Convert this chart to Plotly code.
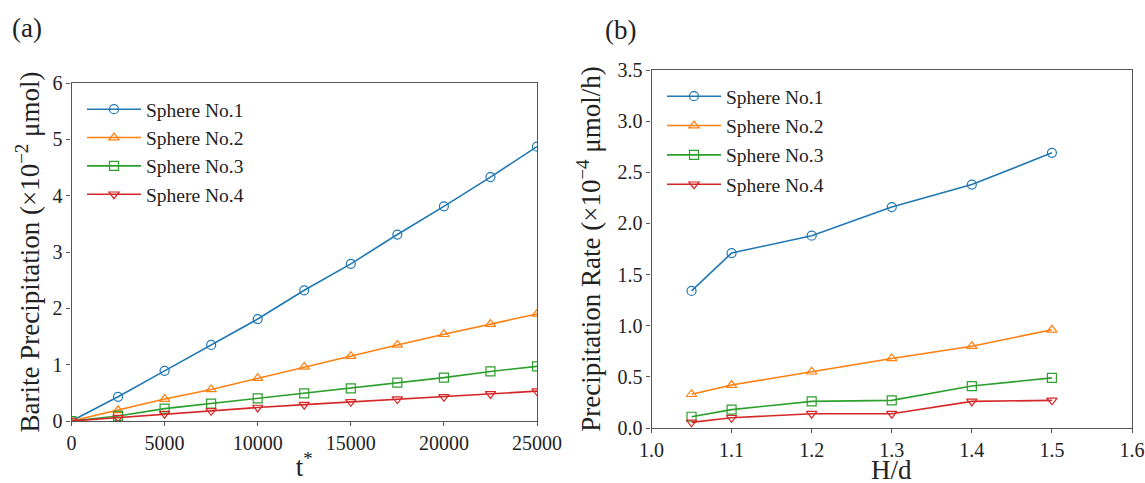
import plotly.graph_objects as go

# ---- data ----
t_star = [0, 2500, 5000, 7500, 10000, 12500, 15000, 17500, 20000, 22500, 25000]
a_s1 = [0, 0.43, 0.89, 1.35, 1.81, 2.32, 2.79, 3.31, 3.81, 4.33, 4.87]
a_s2 = [0, 0.19, 0.39, 0.56, 0.76, 0.96, 1.15, 1.35, 1.54, 1.72, 1.90]
a_s3 = [0, 0.09, 0.22, 0.31, 0.40, 0.49, 0.58, 0.68, 0.77, 0.88, 0.97]
a_s4 = [0, 0.06, 0.13, 0.18, 0.24, 0.29, 0.34, 0.39, 0.43, 0.48, 0.53]

h_d = [1.05, 1.1, 1.2, 1.3, 1.4, 1.5]
b_s1 = [1.34, 1.71, 1.88, 2.16, 2.38, 2.69]
b_s2 = [0.33, 0.42, 0.55, 0.68, 0.80, 0.96]
b_s3 = [0.11, 0.18, 0.26, 0.27, 0.41, 0.49]
b_s4 = [0.055, 0.10, 0.14, 0.14, 0.26, 0.27]

names = ["Sphere No.1", "Sphere No.2", "Sphere No.3", "Sphere No.4"]
colors = ["#1f77b4", "#ff7f0e", "#2ca02c", "#d62728"]
symbols = ["circle-open", "triangle-up-open", "square-open", "triangle-down-open"]

FONT = "Liberation Serif"
W, H = 1145, 483


def px(x):
    return x / W


def py(y):
    return 1 - y / H


fig = go.Figure()
for i, ys in enumerate([a_s1, a_s2, a_s3, a_s4]):
    fig.add_trace(go.Scatter(x=t_star, y=ys, name=names[i], mode="lines+markers",
                             line=dict(color=colors[i], width=1.6),
                             marker=dict(symbol=symbols[i], size=9, color=colors[i], line=dict(width=1.2)),
                             xaxis="x", yaxis="y", legend="legend", legendgroup="a%d" % i))
for i, ys in enumerate([b_s1, b_s2, b_s3, b_s4]):
    fig.add_trace(go.Scatter(x=h_d, y=ys, name=names[i], mode="lines+markers",
                             line=dict(color=colors[i], width=1.6),
                             marker=dict(symbol=symbols[i], size=9, color=colors[i], line=dict(width=1.2)),
                             xaxis="x2", yaxis="y2", legend="legend2", legendgroup="b%d" % i))

axcommon = dict(showline=True, mirror=True, linecolor="#555", linewidth=1.2, ticks="outside",
                ticklen=4, tickcolor="#555", showgrid=False, zeroline=False, automargin=False,
                tickfont=dict(family=FONT, size=20, color="#222"))

fig.update_layout(
    width=W, height=H, margin=dict(l=0, r=0, t=0, b=0, autoexpand=False),
    paper_bgcolor="white", plot_bgcolor="white",
    font=dict(family=FONT, color="#222"),
    xaxis=dict(domain=[px(71.5), px(537)], range=[0, 25000], tickvals=[0, 5000, 10000, 15000, 20000, 25000],
               tickformat="d", anchor="y",
               title=dict(text="t<sup>*</sup>", font=dict(family=FONT, size=27), standoff=4), **axcommon),
    yaxis=dict(domain=[py(421), py(83)], range=[0, 6], dtick=1, anchor="x",
               title=dict(text="Barite Precipitation (×10<sup>−2</sup> μmol)", font=dict(family=FONT, size=27),
                          standoff=4),
               **axcommon),
    xaxis2=dict(domain=[px(651.5), px(1132)], range=[1.0, 1.6], dtick=0.1, tickformat=".1f", anchor="y2",
                **axcommon),
    yaxis2=dict(domain=[py(428), py(70)], range=[0, 3.5], dtick=0.5, tickformat=".1f", anchor="x2",
                title=dict(text="Precipitation Rate (×10<sup>−4</sup> μmol/h)", font=dict(family=FONT, size=27),
                           standoff=8),
                **axcommon),
    legend=dict(x=px(82), y=py(90), xanchor="left", yanchor="top", bgcolor="rgba(255,255,255,0)",
                font=dict(family=FONT, size=19.5, color="#222"), tracegroupgap=0, itemwidth=54),
    legend2=dict(x=px(662), y=py(77), xanchor="left", yanchor="top", bgcolor="rgba(255,255,255,0)",
                 font=dict(family=FONT, size=19.5, color="#222"), tracegroupgap=1, itemwidth=54),
    annotations=[
        dict(text="(a)", x=px(10), y=py(28), xref="paper", yref="paper", xanchor="left", yanchor="middle",
             showarrow=False, font=dict(family=FONT, size=27, color="#222")),
        dict(text="(b)", x=px(603), y=py(30), xref="paper", yref="paper", xanchor="left", yanchor="middle",
             showarrow=False, font=dict(family=FONT, size=27, color="#222")),
        dict(text="H/d", x=0.5, y=py(470), xref="x2 domain", yref="paper", xanchor="center",
             yanchor="middle", showarrow=False, font=dict(family=FONT, size=27, color="#222")),
    ],
)

fig.write_html("out.html", config={"displayModeBar": False},
               post_script="document.body.style.margin='0px';document.body.style.overflow='hidden';")
